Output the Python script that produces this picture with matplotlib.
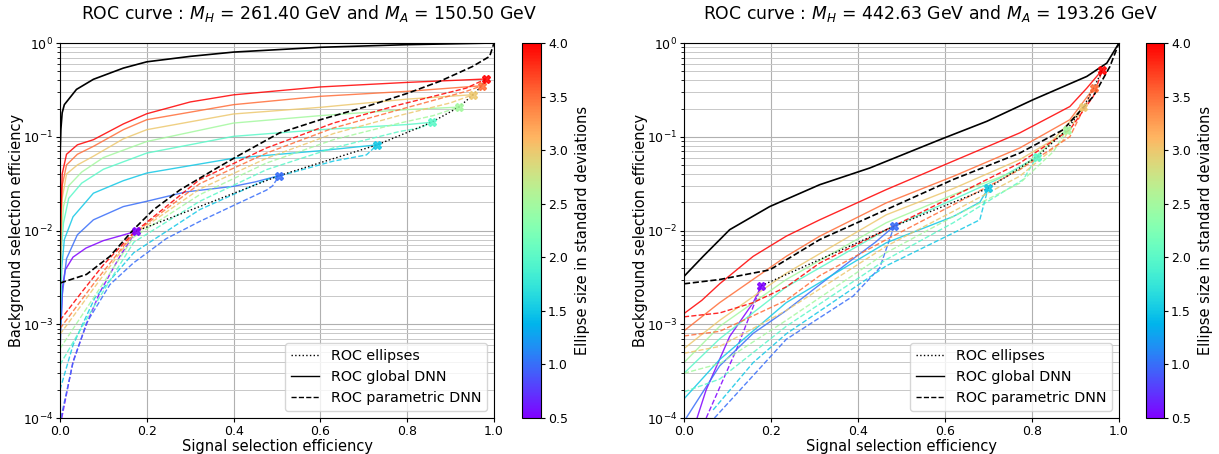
import numpy as np
import matplotlib
matplotlib.use("Agg")
import matplotlib.pyplot as plt
from matplotlib.lines import Line2D

sizes = [0.5, 1.0, 1.5, 2.0, 2.5, 3.0, 3.5, 4.0]
cbar_ticks = [0.5, 1.0, 1.5, 2.0, 2.5, 3.0, 3.5, 4.0]

# ---------------- Left panel: MH = 261.40, MA = 150.50 ----------------
left_title = r"ROC curve : $M_H$ = 261.40 GeV and $M_A$ = 150.50 GeV"
left_ell_sig = [0.175, 0.505, 0.731, 0.856, 0.919, 0.952, 0.972, 0.981]
left_ell_bkg = [0.0098, 0.0385, 0.082, 0.1425, 0.207, 0.281, 0.35, 0.413]

left_glob_sig = [0.0, 0.002, 0.005, 0.01, 0.038, 0.077, 0.146, 0.2, 0.3, 0.4, 0.6, 0.8, 1.0]
left_glob_bkg = [0.06, 0.12, 0.18, 0.22, 0.32, 0.41, 0.54, 0.63, 0.72, 0.80, 0.90, 0.96, 1.0]

left_par_sig = [0.0, 0.061, 0.115, 0.169, 0.215, 0.276, 0.353, 0.414, 0.506, 0.6, 0.706, 0.8, 0.875, 0.95, 0.99, 1.0]
left_par_bkg = [0.00275, 0.0034, 0.0053, 0.0102, 0.0166, 0.027, 0.044, 0.064, 0.11, 0.152, 0.21, 0.29, 0.39, 0.56, 0.72, 1.0]

left_glob_ell_sig = {
    0.5: [0.003, 0.006, 0.012, 0.03, 0.06, 0.1, 0.14, 0.175],
    1.0: [0.0, 0.005, 0.015, 0.04, 0.077, 0.146, 0.2, 0.29, 0.4, 0.45, 0.505],
    1.5: [0.0, 0.004, 0.01, 0.03, 0.077, 0.146, 0.2, 0.4, 0.6, 0.731],
    2.0: [0.0, 0.003, 0.008, 0.02, 0.05, 0.1, 0.2, 0.4, 0.6, 0.8, 0.856],
    2.5: [0.0, 0.003, 0.008, 0.02, 0.05, 0.1, 0.2, 0.4, 0.6, 0.8, 0.919],
    3.0: [0.0, 0.002, 0.005, 0.015, 0.04, 0.077, 0.146, 0.2, 0.4, 0.6, 0.8, 0.952],
    3.5: [0.0, 0.002, 0.005, 0.015, 0.04, 0.077, 0.146, 0.2, 0.4, 0.6, 0.8, 0.972],
    4.0: [0.0, 0.002, 0.005, 0.015, 0.04, 0.077, 0.146, 0.2, 0.3, 0.4, 0.6, 0.8, 0.981],
}
left_glob_ell_bkg = {
    0.5: [0.0012, 0.0025, 0.0038, 0.0052, 0.0065, 0.0078, 0.0088, 0.0098],
    1.0: [0.0005, 0.002, 0.005, 0.009, 0.013, 0.018, 0.0205, 0.0258, 0.0296, 0.033, 0.0385],
    1.5: [0.0007, 0.004, 0.008, 0.014, 0.025, 0.034, 0.041, 0.059, 0.071, 0.082],
    2.0: [0.001, 0.006, 0.012, 0.022, 0.032, 0.045, 0.067, 0.101, 0.119, 0.135, 0.1425],
    2.5: [0.0012, 0.008, 0.018, 0.03, 0.042, 0.06, 0.089, 0.14, 0.168, 0.195, 0.207],
    3.0: [0.0015, 0.009, 0.022, 0.04, 0.05, 0.062, 0.095, 0.119, 0.175, 0.206, 0.252, 0.281],
    3.5: [0.002, 0.012, 0.03, 0.05, 0.065, 0.079, 0.119, 0.152, 0.22, 0.27, 0.305, 0.35],
    4.0: [0.0025, 0.015, 0.04, 0.065, 0.082, 0.093, 0.137, 0.176, 0.235, 0.28, 0.34, 0.38, 0.413],
}

left_par_ell_sig = {
    0.5: [0.004, 0.03, 0.061, 0.092, 0.138, 0.175],
    1.0: [0.002, 0.03, 0.061, 0.115, 0.169, 0.245, 0.322, 0.4, 0.476, 0.49, 0.505],
    1.5: [0.0, 0.03, 0.08, 0.17, 0.322, 0.476, 0.63, 0.706, 0.731],
    2.0: [0.0, 0.08, 0.17, 0.322, 0.476, 0.63, 0.783, 0.83, 0.856],
    2.5: [0.0, 0.08, 0.17, 0.322, 0.476, 0.63, 0.783, 0.86, 0.919],
    3.0: [0.0, 0.08, 0.169, 0.322, 0.476, 0.63, 0.783, 0.9, 0.952],
    3.5: [0.0, 0.08, 0.169, 0.322, 0.476, 0.63, 0.783, 0.936, 0.972],
    4.0: [0.0, 0.05, 0.1, 0.169, 0.322, 0.476, 0.63, 0.783, 0.936, 0.981],
}
left_par_ell_bkg = {
    0.5: [0.0001, 0.0004, 0.001, 0.0022, 0.0053, 0.0098],
    1.0: [0.0001, 0.00039, 0.00103, 0.00265, 0.0045, 0.0082, 0.0125, 0.0185, 0.027, 0.03, 0.0385],
    1.5: [0.0002, 0.0006, 0.0019, 0.0058, 0.0167, 0.035, 0.055, 0.064, 0.082],
    2.0: [0.00037, 0.0016, 0.0075, 0.0205, 0.0446, 0.076, 0.114, 0.124, 0.1425],
    2.5: [0.00055, 0.002, 0.0085, 0.0241, 0.0525, 0.093, 0.14, 0.168, 0.207],
    3.0: [0.00078, 0.0025, 0.009, 0.0277, 0.059, 0.108, 0.169, 0.23, 0.281],
    3.5: [0.0009, 0.0028, 0.0092, 0.0316, 0.067, 0.124, 0.195, 0.305, 0.35],
    4.0: [0.0011, 0.0022, 0.0043, 0.0094, 0.035, 0.076, 0.14, 0.22, 0.33, 0.413],
}

# ---------------- Right panel: MH = 442.63, MA = 193.26 ----------------
right_title = r"ROC curve : $M_H$ = 442.63 GeV and $M_A$ = 193.26 GeV"
right_ell_sig = [0.178, 0.483, 0.699, 0.811, 0.88, 0.918, 0.942, 0.962]
right_ell_bkg = [0.00258, 0.0111, 0.0282, 0.0608, 0.119, 0.207, 0.331, 0.52]

right_glob_sig = [0.0, 0.044, 0.105, 0.197, 0.312, 0.427, 0.588, 0.696, 0.803, 0.926, 0.972, 1.0]
right_glob_bkg = [0.00324, 0.0053, 0.0102, 0.018, 0.0308, 0.0464, 0.093, 0.146, 0.249, 0.44, 0.61, 1.0]

right_par_sig = [0.0, 0.082, 0.197, 0.312, 0.465, 0.619, 0.772, 0.872, 0.941, 0.979, 1.0]
right_par_bkg = [0.0027, 0.0030, 0.0038, 0.0080, 0.0167, 0.035, 0.067, 0.119, 0.27, 0.56, 1.0]

right_glob_ell_sig = {
    0.5: [0.03, 0.051, 0.105, 0.159, 0.178],
    1.0: [0.005, 0.082, 0.159, 0.235, 0.389, 0.44, 0.483],
    1.5: [0.0, 0.082, 0.235, 0.465, 0.619, 0.68, 0.699],
    2.0: [0.0, 0.082, 0.235, 0.465, 0.619, 0.72, 0.811],
    2.5: [0.0, 0.082, 0.235, 0.465, 0.619, 0.772, 0.88],
    3.0: [0.0, 0.082, 0.235, 0.465, 0.619, 0.772, 0.849, 0.918],
    3.5: [0.0, 0.082, 0.235, 0.312, 0.465, 0.619, 0.772, 0.887, 0.942],
    4.0: [0.0, 0.041, 0.082, 0.159, 0.235, 0.312, 0.465, 0.619, 0.772, 0.887, 0.926, 0.962],
}
right_glob_ell_bkg = {
    0.5: [0.0001, 0.0002, 0.00074, 0.0017, 0.00258],
    1.0: [0.0001, 0.00036, 0.0008, 0.0014, 0.005, 0.0075, 0.0111],
    1.5: [0.00016, 0.00042, 0.0017, 0.0074, 0.0141, 0.02, 0.0282],
    2.0: [0.0003, 0.0007, 0.0025, 0.0102, 0.0214, 0.035, 0.0608],
    2.5: [0.00039, 0.00095, 0.003, 0.0121, 0.0241, 0.0446, 0.119],
    3.0: [0.00055, 0.0011, 0.0035, 0.0147, 0.028, 0.057, 0.093, 0.207],
    3.5: [0.00085, 0.0017, 0.0053, 0.0087, 0.0197, 0.0378, 0.076, 0.152, 0.331],
    4.0: [0.0013, 0.0018, 0.0027, 0.0053, 0.0087, 0.013, 0.0273, 0.055, 0.11, 0.21, 0.33, 0.52],
}

right_par_ell_sig = {
    0.5: [0.051, 0.12, 0.178],
    1.0: [0.07, 0.235, 0.389, 0.45, 0.483],
    1.5: [0.067, 0.159, 0.235, 0.465, 0.619, 0.68, 0.699],
    2.0: [0.0, 0.082, 0.235, 0.465, 0.619, 0.78, 0.811],
    2.5: [0.0, 0.082, 0.235, 0.465, 0.619, 0.772, 0.85, 0.88],
    3.0: [0.0, 0.082, 0.235, 0.465, 0.619, 0.772, 0.87, 0.918],
    3.5: [0.0, 0.082, 0.235, 0.312, 0.465, 0.619, 0.772, 0.887, 0.942],
    4.0: [0.0, 0.082, 0.159, 0.235, 0.312, 0.465, 0.619, 0.772, 0.887, 0.941, 0.962],
}
right_par_ell_bkg = {
    0.5: [0.0001, 0.00053, 0.00258],
    1.0: [0.0001, 0.00069, 0.002, 0.004, 0.0111],
    1.5: [0.000122, 0.00039, 0.00079, 0.0042, 0.0094, 0.013, 0.0282],
    2.0: [0.00019, 0.00026, 0.00095, 0.0049, 0.0121, 0.035, 0.0608],
    2.5: [0.0003, 0.00038, 0.0011, 0.0058, 0.0141, 0.032, 0.07, 0.119],
    3.0: [0.00049, 0.00058, 0.0014, 0.0068, 0.016, 0.038, 0.09, 0.207],
    3.5: [0.00075, 0.00084, 0.0018, 0.0033, 0.008, 0.0188, 0.0446, 0.1, 0.331],
    4.0: [0.0012, 0.00132, 0.0017, 0.0025, 0.0045, 0.0102, 0.0231, 0.0525, 0.119, 0.27, 0.52],
}

cmap = plt.get_cmap("rainbow")
norm = matplotlib.colors.Normalize(vmin=0.5, vmax=4.0)

W, H = 1219, 454
fig = plt.figure(figsize=(W / 100, H / 100), dpi=100)


def px(x0, y0, w, h):
    return [x0 / W, (H - y0 - h) / H, w / W, h / H]


def draw_panel(ax, cax, title, title_x, ell_sig, ell_bkg, glob_sig, glob_bkg, par_sig, par_bkg,
               gs, gb, ps, pb):
    for s in sizes:
        c = cmap(norm(s))
        ax.plot(gs[s], gb[s], color=c, lw=1.0, ls="-", alpha=0.85)
        ax.plot(ps[s], pb[s], color=c, lw=1.0, ls="--", alpha=0.85)
    ax.plot(glob_sig, glob_bkg, color="black", lw=1.2, ls="-")
    ax.plot(par_sig, par_bkg, color="black", lw=1.2, ls="--")
    ax.plot(ell_sig, ell_bkg, color="black", lw=1.0, ls=":")
    for s, xs, yb in zip(sizes, ell_sig, ell_bkg):
        ax.plot([xs], [yb], marker="X", ms=6, color=cmap(norm(s)), ls="none", alpha=0.85)
    ax.set_yscale("log")
    ax.set_xlim(0.0, 1.0)
    ax.set_ylim(1e-4, 1.0)
    ax.grid(True, which="major", color="#b0b0b0", lw=0.8)
    ax.grid(True, which="minor", axis="y", color="#c8c8c8", lw=0.7)
    ax.tick_params(which="major", labelsize=9, length=3, pad=2)
    ax.tick_params(which="minor", length=2)
    ax.set_xlabel("Signal selection efficiency", fontsize=10.5, labelpad=1)
    ax.set_ylabel("Background selection efficiency", fontsize=10.5, labelpad=-1)
    fig.text(title_x / W, 1 - 14 / H, title, fontsize=12.4, ha="center", va="center")
    handles = [Line2D([], [], color="black", ls=":", lw=1.0),
               Line2D([], [], color="black", ls="-", lw=1.0),
               Line2D([], [], color="black", ls="--", lw=1.0)]
    ax.legend(handles, ["ROC ellipses", "ROC global DNN", "ROC parametric DNN"],
              loc="lower right", fontsize=10.3, borderaxespad=0.5)
    sm = matplotlib.cm.ScalarMappable(norm=norm, cmap=cmap)
    cb = fig.colorbar(sm, cax=cax, ticks=cbar_ticks)
    cb.ax.tick_params(labelsize=9, length=3, pad=2)
    cb.set_label("Ellipse size in standard deviations", fontsize=10.5, labelpad=5)


axL = fig.add_axes(px(60, 43, 434, 375))
caxL = fig.add_axes(px(522, 43, 19, 375))
axR = fig.add_axes(px(684, 43, 435, 375))
caxR = fig.add_axes(px(1146, 43, 18, 375))

draw_panel(axL, caxL, left_title, 309, left_ell_sig, left_ell_bkg, left_glob_sig, left_glob_bkg,
           left_par_sig, left_par_bkg, left_glob_ell_sig, left_glob_ell_bkg,
           left_par_ell_sig, left_par_ell_bkg)
draw_panel(axR, caxR, right_title, 930, right_ell_sig, right_ell_bkg, right_glob_sig, right_glob_bkg,
           right_par_sig, right_par_bkg, right_glob_ell_sig, right_glob_ell_bkg,
           right_par_ell_sig, right_par_ell_bkg)

fig.savefig("out.png", dpi=100)
